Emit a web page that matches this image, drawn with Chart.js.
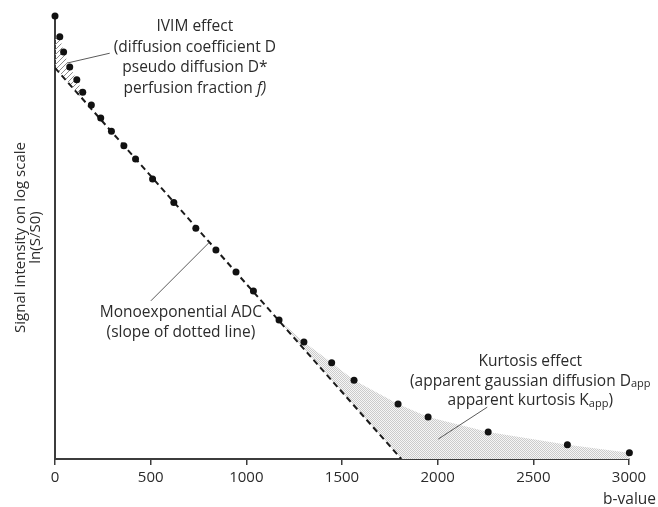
<!DOCTYPE html>
<html>
<head>
<meta charset="utf-8">
<script src="https://cdn.jsdelivr.net/npm/chart.js@4.4.0/dist/chart.umd.min.js"></script>
<style>
  html, body { margin: 0; padding: 0; background: #fff; }
</style>
</head>
<body>
<canvas id="chart" width="658" height="507"></canvas>
<script>
// measured signal points (b-value vs. ln signal, arbitrary units, x axis = 0)
var bValues = [0, 25, 45, 77, 114, 145, 190, 239, 295, 360, 421, 510, 621, 736, 841, 946, 1037, 1171, 1301, 1446, 1563, 1793, 1950, 2264, 2678, 3002];
var signal = [100, 95.3, 91.9, 88.5, 85.6, 82.8, 79.9, 77.0, 74.0, 70.7, 67.7, 63.2, 57.9, 52.1, 47.2, 42.2, 37.9, 31.4, 26.4, 21.7, 17.8, 12.4, 9.5, 6.1, 3.2, 1.4];

// monoexponential fit (dotted line)
var adcB = [0, 1810];
var adcSignal = [88.3, 0];

// IVIM hatched area (between points and fit)
var ivimB = [0, 25, 45, 77, 114, 145];
var ivimTop = [95.5, 95.3, 91.9, 88.5, 85.6, 82.8];
var ivimBaseB = [0, 145];
var ivimBase = [88.3, 81.2];

// kurtosis shaded area
var kurtB = [1171, 1301, 1446, 1563, 1793, 1950, 2264, 2678, 3002];
var kurtTop = [31.4, 26.4, 21.7, 17.8, 12.4, 9.5, 6.1, 3.2, 1.4];
var kurtBaseB = [1171, 1810, 3002];
var kurtBase = [31.2, 0, 0];

var xTicks = [0, 500, 1000, 1500, 2000, 2500, 3000];

var FONT = "'Open Sans', 'DejaVu Sans', sans-serif";
var TEXT = "#2b2b2b";
var AXIS = "#3c3c3c";

function pts(xs, ys) {
  return xs.map(function (x, i) { return { x: x, y: ys[i] }; });
}

function hatch() {
  var c = document.createElement("canvas");
  c.width = 5; c.height = 5;
  var g = c.getContext("2d");
  g.strokeStyle = "#8c8c8c";
  g.lineWidth = 1;
  g.beginPath();
  g.moveTo(-1, 6); g.lineTo(6, -1);
  g.moveTo(-1, 1); g.lineTo(1, -1);
  g.moveTo(4, 6); g.lineTo(6, 4);
  g.stroke();
  return g.createPattern(c, "repeat");
}

function stipple() {
  var c = document.createElement("canvas");
  c.width = 2; c.height = 2;
  var g = c.getContext("2d");
  g.fillStyle = "#f6f6f6";
  g.fillRect(0, 0, 2, 2);
  g.fillStyle = "#cbcbcb";
  g.fillRect(0, 0, 1, 1);
  g.fillRect(1, 1, 1, 1);
  return g.createPattern(c, "repeat");
}

// annotations: [b, signal] anchor for text centre, lines of [text, style] parts
var notes = [
  { at: [731, 97.5], gap: 20.5, lines: [
    [["IVIM effect"]],
    [["(diffusion coefficient D"]],
    [["pseudo diffusion D*"]],
    [["perfusion fraction "], ["f)", "italic"]]
  ] },
  { at: [658, 33.0], gap: 19.5, lines: [
    [["Monoexponential ADC"]],
    [["(slope of dotted line)"]]
  ] },
  { at: [2484, 21.9], gap: 19.5, lines: [
    [["Kurtosis effect"]],
    [["(apparent gaussian diffusion D"], ["app", "sub"]],
    [["apparent kurtosis K"], ["app", "sub"], [")"]]
  ] }
];
var leaders = [
  [[66, 89.4], [286, 91.6]],
  [[804, 48.8], [501, 35.7]],
  [[2003, 4.5], [2259, 11.7]]
];

function partFont(style) {
  if (style === "sub") return "11px " + FONT;
  if (style === "italic") return "italic 15.5px " + FONT;
  return "15.5px " + FONT;
}

var annotate = {
  id: "annotate",
  afterDraw: function (chart) {
    var ctx = chart.ctx, xs = chart.scales.x, ys = chart.scales.y;
    ctx.save();
    ctx.strokeStyle = "#5a5a5a";
    ctx.lineWidth = 1;
    leaders.forEach(function (l) {
      ctx.beginPath();
      ctx.moveTo(xs.getPixelForValue(l[0][0]), ys.getPixelForValue(l[0][1]));
      ctx.lineTo(xs.getPixelForValue(l[1][0]), ys.getPixelForValue(l[1][1]));
      ctx.stroke();
    });
    ctx.fillStyle = TEXT;
    ctx.textBaseline = "middle";
    ctx.textAlign = "left";
    notes.forEach(function (n) {
      var cx = xs.getPixelForValue(n.at[0]);
      var cy = ys.getPixelForValue(n.at[1]);
      n.lines.forEach(function (line, i) {
        var w = 0;
        line.forEach(function (p) { ctx.font = partFont(p[1]); w += ctx.measureText(p[0]).width; });
        var x = cx - w / 2, y = cy + i * n.gap;
        line.forEach(function (p) {
          ctx.font = partFont(p[1]);
          ctx.fillText(p[0], x, p[1] === "sub" ? y + 2.5 : y);
          x += ctx.measureText(p[0]).width;
        });
      });
    });
    ctx.font = "15.5px " + FONT;
    ctx.textAlign = "right";
    ctx.fillText("b-value", xs.right + 27, xs.top + 41);
    ctx.restore();
  }
};

new Chart(document.getElementById("chart"), {
  type: "line",
  data: {
    datasets: [
      { data: pts(ivimB, ivimTop), fill: "+1", backgroundColor: hatch(), borderWidth: 0, pointRadius: 0, order: 3 },
      { data: pts(ivimBaseB, ivimBase), borderWidth: 0, pointRadius: 0, order: 3 },
      { data: pts(kurtB, kurtTop), fill: "+1", backgroundColor: stipple(), borderWidth: 0, pointRadius: 0, order: 3 },
      { data: pts(kurtBaseB, kurtBase), borderWidth: 0, pointRadius: 0, order: 3 },
      { data: pts(adcB, adcSignal), borderColor: "#1a1a1a", borderWidth: 2, borderDash: [6, 4], pointRadius: 0, fill: false, order: 2 },
      { data: pts(bValues, signal), showLine: false, pointRadius: 3.5, pointBackgroundColor: "#111", pointBorderWidth: 0, clip: false, order: 1 }
    ]
  },
  options: {
    responsive: false,
    animation: false,
    events: [],
    layout: { padding: { top: 16, right: 29, left: 0, bottom: 0 } },
    plugins: { legend: { display: false }, tooltip: { enabled: false } },
    scales: {
      x: {
        type: "linear", min: 0, max: 3000, z: 1,
        afterBuildTicks: function (s) { s.ticks = xTicks.map(function (v) { return { value: v }; }); },
        afterFit: function (s) { s.height = 48; },
        grid: { drawOnChartArea: false, drawTicks: true, tickLength: 6, color: AXIS, lineWidth: 1.5 },
        border: { color: AXIS, width: 2 },
        ticks: {
          color: TEXT, font: { family: FONT, size: 15 }, padding: 4, maxRotation: 0,
          callback: function (v) { return String(v); }
        }
      },
      y: {
        type: "linear", min: 0, max: 100, z: 1,
        afterFit: function (s) { s.width = 55; },
        grid: { display: false },
        border: { color: AXIS, width: 2 },
        ticks: { display: false },
        title: {
          display: true,
          text: ["Signal intensity on log scale", "ln(S/S0)"],
          color: TEXT,
          font: { family: FONT, size: 15, lineHeight: "15px" },
          padding: { top: 13, bottom: 0 }
        }
      }
    }
  },
  plugins: [annotate]
});
</script>
</body>
</html>
